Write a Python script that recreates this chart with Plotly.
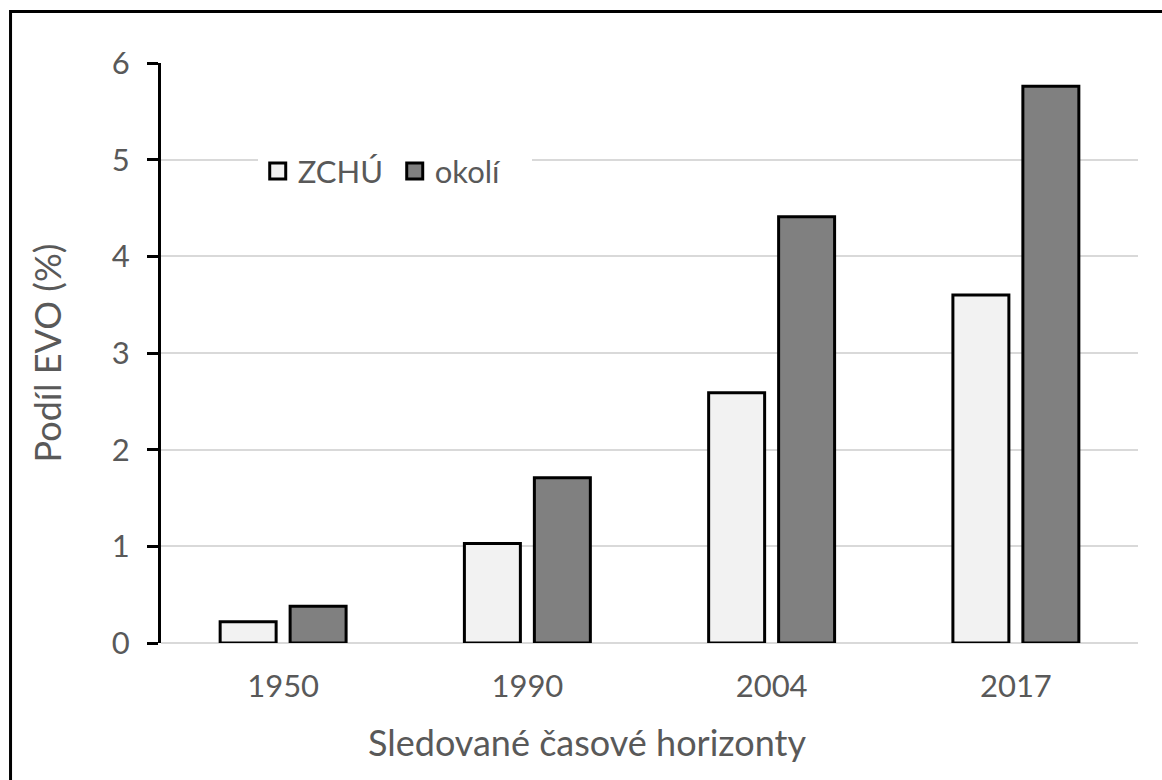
import plotly.graph_objects as go

# Sledované časové horizonty a podíl EVO
years = ["1950", "1990", "2004", "2017"]
zchu = [0.22, 1.03, 2.59, 3.60]
okoli = [0.38, 1.71, 4.41, 5.76]
y_ticks = [0, 1, 2, 3, 4, 5, 6]

series = [("ZCHÚ", zchu, "#f2f2f2"), ("okolí", okoli, "#808080")]

FONT = "Lato, 'Open Sans', sans-serif"
TXT = "#595959"

fig = go.Figure()
for name, vals, col in series:
    fig.add_trace(go.Bar(
        name=name, x=years, y=vals, showlegend=False,
        marker=dict(color=col, line=dict(color="black", width=3)),
    ))
# legend entries with larger square swatches
for name, vals, col in series:
    fig.add_trace(go.Scatter(
        name=name, x=[None], y=[None], mode="markers", showlegend=True,
        marker=dict(symbol="square", size=16, color=col, line=dict(color="black", width=3)),
    ))

fig.update_layout(
    width=1162, height=780,
    margin=dict(l=161, r=24, t=63, b=137),
    paper_bgcolor="white", plot_bgcolor="white",
    barmode="group", bargap=0.427, bargroupgap=0.2,
    font=dict(family=FONT, color=TXT, size=31),
    showlegend=True,
    legend=dict(
        orientation="h", x=0.099, y=0.813, xanchor="left", yanchor="middle",
        bgcolor="white", font=dict(size=31, color=TXT),
        itemwidth=30, entrywidth=92, traceorder="normal", itemsizing="trace",
    ),
    xaxis=dict(
        showline=False, ticks="", showgrid=False,
        tickfont=dict(size=31, color=TXT), ticklabelstandoff=22,
    ),
    yaxis=dict(
        range=[0, 6], tickvals=y_ticks, ticktext=[str(v) for v in y_ticks],
        showline=True, linecolor="black", linewidth=3,
        ticks="outside", ticklen=11, tickwidth=3, tickcolor="black",
        showgrid=True, gridcolor="#d9d9d9", gridwidth=2,
        zeroline=True, zerolinecolor="#d9d9d9", zerolinewidth=2,
        tickfont=dict(size=31, color=TXT), ticklabelstandoff=11,
        title=dict(text="Podíl EVO (%)", font=dict(size=36, color=TXT), standoff=40),
    ),
    # x-axis title centred on the whole chart area
    annotations=[dict(
        text="Sledované časové horizonty", xref="paper", yref="paper",
        x=0.436, y=-0.17, xanchor="center", yanchor="middle", showarrow=False,
        font=dict(size=36, color=TXT),
    )],
    shapes=[dict(
        type="rect", xref="paper", yref="paper",
        x0=-0.154, x1=1.1, y0=-0.4, y1=1.0888,
        line=dict(color="black", width=3), fillcolor="rgba(0,0,0,0)", layer="above",
    )],
)

fig.write_html("out.html")
